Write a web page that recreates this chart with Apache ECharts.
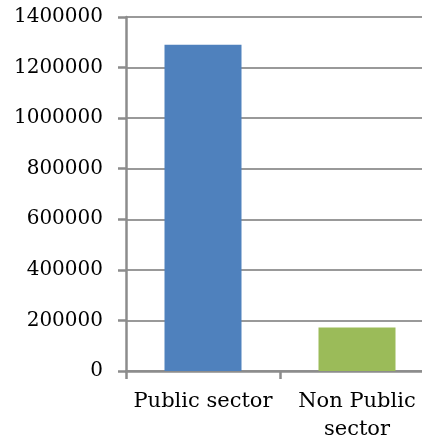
<!DOCTYPE html>
<html>
<head>
<meta charset="utf-8">
<script src="https://cdn.jsdelivr.net/npm/echarts@6/dist/echarts.min.js"></script>
<style>
html,body{margin:0;padding:0;background:#fff;overflow:hidden;width:422px;height:439px;}
#c{width:434px;height:439px;}
</style>
</head>
<body>
<div id="c"></div>
<script>
var categories = ['Public sector', 'Non Public sector'];
var values = [1290000, 172000];
var barColors = ['#4F81BD', '#9BBB59'];
var yMin = 0, yMax = 1400000, yStep = 200000;

var chart = echarts.init(document.getElementById('c'));
chart.setOption({
  animation: false,
  grid: {left: 126, top: 17, bottom: 68, right: 0, containLabel: false, outerBoundsMode: 'none'},
  xAxis: {
    type: 'category',
    data: categories,
    axisLine: {lineStyle: {color: '#8c8c8c', width: 2.5}},
    axisTick: {show: true, length: 8, lineStyle: {color: '#8c8c8c', width: 2.5}},
    axisLabel: {
      color: '#000', fontFamily: 'DejaVu Serif', fontSize: 21, margin: 17, lineHeight: 28,
      interval: 0,
      formatter: function (v) { return v.replace(/^(Non Public) /, '$1\n'); }
    }
  },
  yAxis: {
    type: 'value',
    min: yMin, max: yMax, interval: yStep,
    axisLine: {show: true, lineStyle: {color: '#8c8c8c', width: 2.5}},
    axisTick: {show: true, length: 8, lineStyle: {color: '#8c8c8c', width: 2.5}},
    splitLine: {lineStyle: {color: '#999', width: 2}},
    axisLabel: {color: '#000', fontFamily: 'DejaVu Serif', fontSize: 20, margin: 23,
      formatter: function (v) { return String(v); }}
  },
  series: [{
    type: 'bar',
    barWidth: '50%',
    data: values.map(function (v, i) { return {value: v, itemStyle: {color: barColors[i]}}; })
  }]
});
</script>
</body>
</html>
